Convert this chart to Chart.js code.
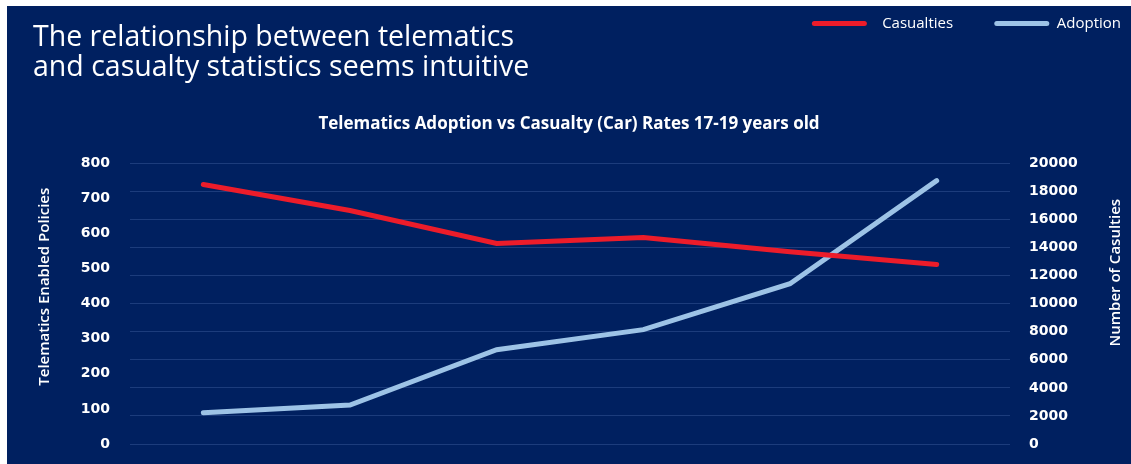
<!DOCTYPE html>
<html>
<head>
<meta charset="utf-8">
<script src="https://cdn.jsdelivr.net/npm/chart.js@4"></script>
<style>
  html, body { margin: 0; padding: 0; background: #ffffff; }
  #wrap { position: absolute; left: 7px; top: 6px; width: 1124px; height: 458px; background: #002060; }
  #heading {
    position: absolute; left: 26px; top: 14px;
    font-family: "Open Sans", sans-serif; font-size: 28.5px; line-height: 30px;
    color: #ffffff; font-weight: 400; white-space: nowrap;
  }
</style>
</head>
<body>
<div id="wrap">
  <canvas id="chart"></canvas>
  <div id="heading">The relationship between telematics<br>and casualty statistics seems intuitive</div>
</div>
<script>
// periods along the x axis (not labelled in the original)
var periods = ["1", "2", "3", "4", "5", "6"];
// number of casualties (right axis)
var casualties = [18500, 16640, 14290, 14710, 13710, 12790];
// telematics enabled policies (left axis)
var adoption = [89, 111, 269, 326, 457, 751];

var leftTicks = { min: 0, max: 800, step: 100 };
var rightTicks = { min: 0, max: 20000, step: 2000 };
var leftTitle = "Telematics Enabled Policies";
var rightTitle = "Number of Casulties";

var white = "#ffffff";
var tickFont = { family: "DejaVu Sans", size: 14, weight: "bold" };

// both axis titles read bottom-to-top, as in the original
var axisTitles = {
  id: "axisTitles",
  afterDraw: function (chart) {
    var ctx = chart.ctx;
    var area = chart.chartArea;
    var mid = (area.top + area.bottom) / 2;
    ctx.save();
    ctx.fillStyle = white;
    ctx.font = "600 15px 'Open Sans'";
    ctx.textAlign = "center";
    ctx.textBaseline = "middle";
    [[38, mid - 17, leftTitle], [chart.width - 15, mid - 31, rightTitle]].forEach(function (t) {
      ctx.save();
      ctx.translate(t[0], t[1]);
      ctx.rotate(-Math.PI / 2);
      ctx.fillText(t[2], 0, 0);
      ctx.restore();
    });
    ctx.restore();
  },
};

function fixWidth(w) {
  return function (scale) {
    scale.width = w;
    scale.paddingTop = 0;
    scale.paddingBottom = 0;
  };
}

var config = {
  type: "line",
  data: {
    labels: periods,
    datasets: [
      {
        label: "Casualties",
        data: casualties,
        yAxisID: "y1",
        borderColor: "#ec1c2a",
        backgroundColor: "#ec1c2a",
        borderWidth: 5,
        borderCapStyle: "round",
        pointRadius: 0,
        tension: 0,
      },
      {
        label: "Adoption",
        data: adoption,
        yAxisID: "y",
        borderColor: "#9dc3e6",
        backgroundColor: "#9dc3e6",
        borderWidth: 5,
        borderCapStyle: "round",
        pointRadius: 0,
        tension: 0,
      },
    ],
  },
  options: {
    responsive: true,
    maintainAspectRatio: false,
    animation: false,
    layout: { padding: { left: 0, right: 0, top: 0, bottom: 20 } },
    plugins: {
      legend: {
        position: "top",
        align: "end",
        labels: {
          color: white,
          font: { family: "Open Sans", size: 15 },
          boxWidth: 55,
          boxHeight: 5,
          padding: 10,
          useBorderRadius: true,
          borderRadius: 2.5,
          generateLabels: function (chart) {
            var items = Chart.defaults.plugins.legend.labels.generateLabels(chart);
            items.forEach(function (it, i) {
              it.lineWidth = 0;
              it.text = (i === 0 ? "  " : "") + it.text + (i === 0 ? "        " : "");
            });
            return items;
          },
        },
      },
      title: {
        display: true,
        weight: 500,
        text: "Telematics Adoption vs Casualty (Car) Rates 17-19 years old",
        color: white,
        font: { family: "Open Sans", size: 17, weight: "bold" },
        padding: { top: 73, bottom: 29 },
      },
      tooltip: { enabled: false },
    },
    scales: {
      x: {
        display: false,
        offset: true,
      },
      y: {
        position: "left",
        min: leftTicks.min,
        max: leftTicks.max,
        ticks: {
          stepSize: leftTicks.step, color: white, font: tickFont, padding: 20,
          callback: function (v) { return String(v); },
        },
        grid: { display: false, drawTicks: false },
        border: { display: false },
        afterFit: fixWidth(123),
      },
      y1: {
        position: "right",
        min: rightTicks.min,
        max: rightTicks.max,
        ticks: {
          stepSize: rightTicks.step, color: white, font: tickFont, padding: 19,
          callback: function (v) { return String(v); },
        },
        grid: { color: "#1c3c7c", lineWidth: 1, drawTicks: false },
        border: { display: false },
        afterFit: fixWidth(121),
      },
    },
  },
  plugins: [axisTitles],
};

new Chart(document.getElementById("chart"), config);
</script>
</body>
</html>
